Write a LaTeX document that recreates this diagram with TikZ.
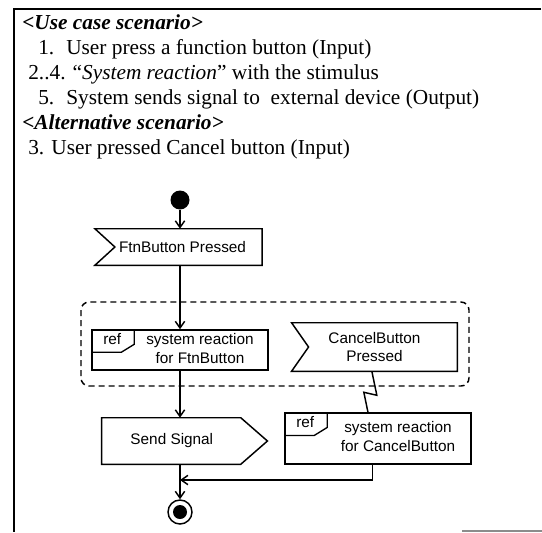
\documentclass[tikz,border=0pt]{standalone}
\usepackage{fontspec}
\setmainfont{Liberation Serif}
\newfontfamily\umlfont{Liberation Sans}
\usetikzlibrary{arrows.meta}
\newcommand{\umlsize}{\umlfont\fontsize{11.5}{14}\selectfont}
\newcommand{\recvflag}[2]{\draw[line width=1.1pt] (#1.north west) -- (#1.north east) -- (#1.south east) -- (#1.south west) -- ([xshift=#2]#1.west) -- cycle;}
\newcommand{\sendflag}[2]{\draw[line width=1.1pt] (#1.north west) -- ([xshift=-#2]#1.north east) -- (#1.east) -- ([xshift=-#2]#1.south east) -- (#1.south west) -- cycle;}
\newcommand{\refframe}[6]{\node[refbox,minimum width=#4,minimum height=#5] (#1) at (#2,#3) {\hspace*{30pt}\begin{tabular}{@{}c@{}}#6\end{tabular}};
  \draw[line width=1pt] (#1.north west) ++(43,0) -- ++(0,15) -- ++(-13,8) -- ++(-30,0);
  \node[font=\umlsize,inner sep=0pt] (#1-tag) at ([shift={(21,10)}]#1.north west) {ref};}

\begin{document}
\begin{tikzpicture}[x=0.75pt,y=-0.75pt,font=\fontsize{16}{19}\selectfont,
  txt/.style={anchor=base west,inner sep=0pt},
  flow/.style={line width=1.1pt,-{Straight Barb[length=5pt,width=7pt]}},
  sigbox/.style={font=\umlsize,inner sep=0pt},
  refbox/.style={draw,line width=1.1pt,font=\umlsize,inner sep=1pt}]
\useasboundingbox (0,0) rectangle (542,532);
% frame
\draw[line width=1.1pt] (541,9) -- (14,9) -- (14,532);
\draw[line width=1pt,black!45] (462,531) -- (542,531);
% scenario text
\node[txt] (uc) at (22,29) {\textbf{\textit{<Use case scenario>}}};
\node[txt] (n1) at (38,54) {1.};
\node[txt] (s1) at (66,54) {User press a function button (Input)};
\node[txt] (s2) at (28,79) {2..4. ``\textit{System reaction}'' with the stimulus};
\node[txt] (n5) at (38,104) {5.};
\node[txt] (s5) at (66,104) {System sends signal to\ \ external device (Output)};
\node[txt] (alt) at (22,129) {\textbf{\textit{<Alternative scenario>}}};
\node[txt] (s3) at (28,154) {3. User pressed Cancel button (Input)};
% activity
\draw[dash pattern=on 4.5pt off 3pt,line width=1.1pt,rounded corners=6pt] (81,302) rectangle (469,386);
\node[circle,fill,inner sep=0pt,minimum size=14.25pt] (start) at (180,200) {};
\node[sigbox,minimum width=125pt,minimum height=27pt] (ftn) at (178.5,247) {\hspace*{6pt}FtnButton Pressed};
\recvflag{ftn}{15pt}
\refframe{ftnref}{180}{350}{132pt}{30pt}{system reaction\\for FtnButton}
\node[sigbox,align=center,minimum width=124pt,minimum height=36pt] (cancel) at (374.5,347) {CancelButton\\Pressed};
\recvflag{cancel}{12.75pt}
\refframe{cancelref}{378}{438.5}{139.5pt}{38pt}{system reaction\\for CancelButton}
\node[sigbox,minimum width=124pt,minimum height=34.5pt] (send) at (184.5,441) {Send Signal\hspace*{19pt}};
\sendflag{send}{20pt}
\node[circle,draw,line width=1.1pt,inner sep=0pt,minimum size=18pt] (final) at (180,512) {};
\node[circle,fill,inner sep=0pt,minimum size=10.5pt] (finaldot) at (final) {};
\coordinate (merge) at (180,480);
% connectors
\draw[flow] (start) -- (ftn.north -| start);
\draw[flow] (ftn.south -| start) -- (ftnref.north -| start);
\draw[flow] (ftnref.south -| start) -- (send.north -| start);
\draw[flow] (send.south -| start) -- (final.north);
\draw[line width=1.1pt] ([xshift=-2pt]cancel.south) -- ++(5,24) -- ++(-13,-3) -- ([xshift=-7.5pt]cancelref.north);
\draw[flow] ([xshift=-4pt]cancelref.south) |- (merge);
\end{tikzpicture}
\end{document}
